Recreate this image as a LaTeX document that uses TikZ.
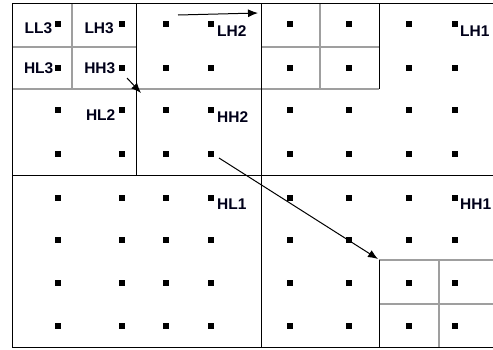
\documentclass[tikz,border=0pt]{standalone}
\usepackage{fontspec}
\setmainfont{Liberation Sans}
\usetikzlibrary{arrows.meta}
\begin{document}
\begin{tikzpicture}[x=1pt,y=-1pt,
  frame/.style={line width=1pt,black},
  sub/.style={line width=1.3pt,gray!75},
  dot/.style={fill=black,minimum size=6.5pt,inner sep=0pt,draw=none,rectangle},
  lbl/.style={font=\bfseries\fontsize{15.5}{15.5}\selectfont,inner sep=0pt,text=black!90!blue},
  arr/.style={line width=1pt,-{Latex[length=10pt,width=8pt]}}]
\useasboundingbox (0,0) rectangle (493,349);
% grey sub-band lines
\draw[sub] (72,3) -- (72,89);
\draw[sub] (12,47) -- (136,47);
\draw[sub] (12,89) -- (379,89);
\draw[sub] (320,3) -- (320,89);
\draw[sub] (261,47) -- (379,47);
\draw[sub] (379,260) -- (493,260);
\draw[sub] (439,260) -- (439,347);
\draw[sub] (379,304) -- (493,304);
% black lines
\draw[frame] (493,3) -- (12,3) -- (12,347) -- (493,347);
\draw[frame] (136,3) -- (136,175);
\draw[frame] (12,175) -- (493,175);
\draw[frame] (261,3) -- (261,347);
\draw[frame] (379,3) -- (379,89);
\draw[frame] (379,260) -- (379,347);
% dots
\foreach \x [count=\i] in {58,122,166,211,290,349,409,455}
  \foreach \y [count=\j] in {24,68,110,154,198,240,283,326}
    \node[dot] (d\i-\j) at (\x,\y) {};
% labels
\node[lbl,anchor=base east] (ll3) at (52.5,33.5) {LL3};
\node[lbl,anchor=base east] (lh3) at (114,33.5) {LH3};
\node[lbl,anchor=base east] (hl3) at (53.5,73.5) {HL3};
\node[lbl,anchor=base east] (hh3) at (115.5,73.5) {HH3};
\node[lbl,anchor=base east] (hl2) at (115.5,120.5) {HL2};
\node[lbl,anchor=base west] (lh2) at (217,36.5) {LH2};
\node[lbl,anchor=base west] (hh2) at (217,122.5) {HH2};
\node[lbl,anchor=base west] (lh1) at (460,36.5) {LH1};
\node[lbl,anchor=base west] (hl1) at (217,209.5) {HL1};
\node[lbl,anchor=base west] (hh1) at (460,209.5) {HH1};
% arrows
\coordinate (a1s) at (178,15);
\coordinate (a1e) at (258,13);
\coordinate (a2s) at (127,78);
\coordinate (a2e) at (141,93);
\coordinate (a3s) at (219,158);
\coordinate (a3e) at (378,259);
\draw[arr] (a1s) -- (a1e);
\draw[arr] (a2s) -- (a2e);
\draw[arr] (a3s) -- (a3e);
\end{tikzpicture}
\end{document}
